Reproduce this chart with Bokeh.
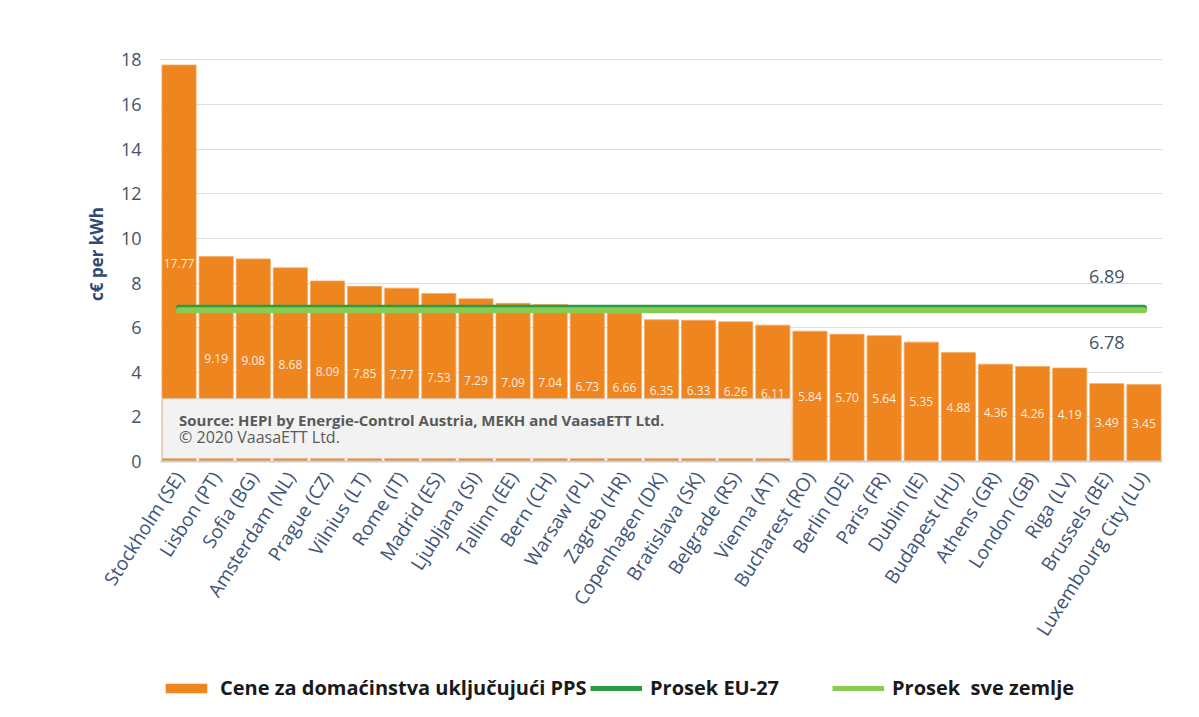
from bokeh.plotting import figure
from bokeh.layouts import column
from bokeh.models import (ColumnDataSource, FixedTicker, BoxAnnotation, Label, Legend, LegendItem, Range1d)
from bokeh.embed import file_html
from bokeh.resources import INLINE
from bokeh.core.properties import value

cities = ["Stockholm (SE)", "Lisbon (PT)", "Sofia (BG)", "Amsterdam (NL)", "Prague (CZ)",
          "Vilnius (LT)", "Rome (IT)", "Madrid (ES)", "Ljubljana (SI)", "Tallinn (EE)",
          "Bern (CH)", "Warsaw (PL)", "Zagreb (HR)", "Copenhagen (DK)", "Bratislava (SK)",
          "Belgrade (RS)", "Vienna (AT)", "Bucharest (RO)", "Berlin (DE)", "Paris (FR)",
          "Dublin (IE)", "Budapest (HU)", "Athens (GR)", "London (GB)", "Riga (LV)",
          "Brussels (BE)", "Luxembourg City (LU)"]
prices = [17.77, 9.19, 9.08, 8.68, 8.09, 7.85, 7.77, 7.53, 7.29, 7.09, 7.04, 6.73, 6.66,
          6.35, 6.33, 6.26, 6.11, 5.84, 5.70, 5.64, 5.35, 4.88, 4.36, 4.26, 4.19, 3.49, 3.45]
eu27_avg = 6.89
all_avg = 6.78
y_ticks = [0, 2, 4, 6, 8, 10, 12, 14, 16, 18]
legend_labels = ["Cene za doma\u0107instva uklju\u010duju\u0107i PPS", "Prosek EU-27", "Prosek  sve zemlje"]

FONT = "Open Sans"
AXIS_COL = "#3e5478"
BAR_COL = "#ee851f"
EU_COL = "#2a9a45"
ALL_COL = "#88cd52"

src = ColumnDataSource(dict(
    city=cities, price=prices,
    mid=[v / 2 for v in prices],
    lbl=["%.2f" % v for v in prices],
))

p = figure(x_range=cities, y_range=(0, 18.6), width=1183, height=661,
           output_backend="svg", toolbar_location=None,
           min_border_left=160, min_border_right=21, min_border_top=46, min_border_bottom=200)
p.outline_line_color = None
p.background_fill_color = "white"
p.border_fill_color = "white"

bars = p.vbar(x="city", top="price", width=0.92, source=src,
              fill_color=BAR_COL, line_color="#f6a862", line_width=0.8)

# value labels in bars
p.text(x="city", y="mid", text="lbl", source=src, text_align="center", text_baseline="middle",
       text_color="white", text_alpha=0.88, text_font=value(FONT), text_font_size="12px")

# average lines
p.line(x=[cities[0], cities[-1]], y=[eu27_avg, eu27_avg], line_color=EU_COL,
       line_width=6, line_cap="round")
p.line(x=[cities[0], cities[-1]], y=[all_avg, all_avg], line_color=ALL_COL,
       line_width=6, line_cap="round")

# average value labels
p.add_layout(Label(x=25.5, y=8.28, text="%.2f" % eu27_avg, text_align="center",
                   text_baseline="middle", text_font=FONT, text_font_size="18px",
                   text_color="#44546a"))
p.add_layout(Label(x=25.5, y=5.33, text="%.2f" % all_avg, text_align="center",
                   text_baseline="middle", text_font=FONT, text_font_size="18px",
                   text_color="#44546a"))

# source box
p.add_layout(BoxAnnotation(left=0.05, right=17.0, bottom=0.13, top=2.82,
                           fill_color="#f2f2f2", fill_alpha=1.0,
                           line_color="#c8c8c8", line_width=1.5))
p.add_layout(Label(x=0.5, y=1.88, text="Source: HEPI by Energie-Control Austria, MEKH and VaasaETT Ltd.",
                   text_baseline="middle", text_font=FONT, text_font_size="15px",
                   text_font_style="bold", text_color="#595959"))
p.add_layout(Label(x=0.5, y=1.08, text="\u00a9 2020 VaasaETT Ltd.",
                   text_baseline="middle", text_font=FONT, text_font_size="16px",
                   text_color="#595959"))

# axes
p.yaxis.ticker = FixedTicker(ticks=y_ticks)
p.yaxis.axis_line_color = None
p.yaxis.major_tick_line_color = None
p.yaxis.major_tick_out = 0
p.yaxis.minor_tick_line_color = None
p.yaxis.major_label_text_font = FONT
p.yaxis.major_label_text_font_size = "18px"
p.yaxis.major_label_text_color = "#44546a"
p.yaxis.major_label_standoff = 19
p.yaxis.axis_label = "c\u20ac per kWh"
p.yaxis.axis_label_text_font = FONT
p.yaxis.axis_label_text_font_size = "17px"
p.yaxis.axis_label_text_font_style = "bold"
p.yaxis.axis_label_text_color = "#2f4a73"
p.yaxis.axis_label_standoff = 10

p.xaxis.axis_line_color = "#cfcfcf"
p.xaxis.axis_line_width = 2
p.xaxis.major_tick_line_color = None
p.xaxis.major_tick_out = 0
p.xaxis.minor_tick_line_color = None
p.xaxis.major_label_orientation = 1.0
p.xaxis.major_label_text_font = FONT
p.xaxis.major_label_text_font_size = "19px"
p.xaxis.major_label_text_color = AXIS_COL
p.xaxis.major_label_standoff = 12

p.xgrid.grid_line_color = None
p.ygrid.grid_line_color = "#d9dfe8"
p.ygrid.grid_line_width = 1.2

# legend strip: same series drawn outside its visible range, so only the legend shows
lg = figure(width=1183, height=40, output_backend="svg", toolbar_location=None,
            x_range=p.x_range, y_range=Range1d(100, 101),
            min_border=0, x_axis_type=None, y_axis_type=None)
lg.outline_line_color = None
lg.grid.visible = False
r_bar = lg.vbar(x="city", top="price", width=0.92, source=src, fill_color=BAR_COL, line_color=None)
r_eu = lg.line(x=[cities[0], cities[-1]], y=[eu27_avg, eu27_avg], line_color=EU_COL, line_width=5)
r_all = lg.line(x=[cities[0], cities[-1]], y=[all_avg, all_avg], line_color=ALL_COL, line_width=5)

for lab, rend, xpos in zip(legend_labels, [r_bar, r_eu, r_all], [0, 430, 672]):
    leg = Legend(items=[LegendItem(label=lab, renderers=[rend])], location=(xpos, 0))
    leg.label_text_font = FONT
    leg.label_text_font_size = "20px"
    leg.label_text_font_style = "bold"
    leg.label_text_color = "#1a1a1a"
    leg.glyph_width = 52
    leg.glyph_height = 12
    leg.label_standoff = 8
    leg.padding = 0
    leg.margin = 0
    leg.border_line_color = None
    leg.background_fill_alpha = 0
    lg.add_layout(leg)

layout = column(p, lg, spacing=0)
open("out.html", "w").write(file_html(layout, INLINE))
